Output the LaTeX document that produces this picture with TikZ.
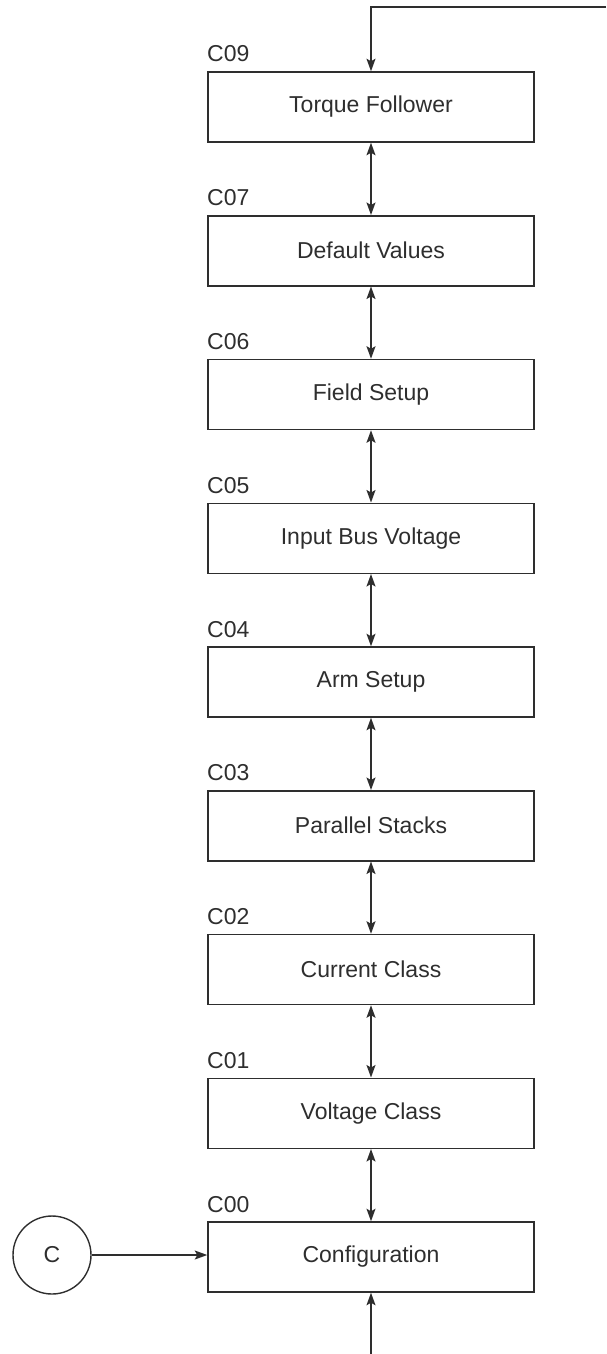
\documentclass[tikz,border=0pt]{standalone}
\usepackage{fontspec}
\setmainfont{Liberation Sans}
\usetikzlibrary{arrows.meta}
\definecolor{ink}{HTML}{2E2E2E}
\begin{document}
\begin{tikzpicture}[x=1pt,y=-1pt,
  every node/.style={font=\fontsize{23}{27}\selectfont, text=ink},
  stepbox/.style={draw=ink, line width=1.5pt, minimum width=326pt, minimum height=70pt, inner sep=0pt},
  lbl/.style={anchor=base west, inner sep=0pt},
  tip/.tip={Stealth[length=12.5pt,width=9pt,inset=2.5pt]},
  conn/.style={draw=ink, line width=1.4pt, -tip},
  bconn/.style={draw=ink, line width=1.4pt, tip-tip}]
\useasboundingbox (0,0) rectangle (606,1354);
% boxes
\node[stepbox] (c09) at (371,107) {Torque Follower};
\node[stepbox] (c07) at (371,250.75) {Default Values};
\node[stepbox] (c06) at (371,394.5) {Field Setup};
\node[stepbox] (c05) at (371,538.25) {Input Bus Voltage};
\node[stepbox] (c04) at (371,682) {Arm Setup};
\node[stepbox] (c03) at (371,825.75) {Parallel Stacks};
\node[stepbox] (c02) at (371,969.5) {Current Class};
\node[stepbox] (c01) at (371,1113.25) {Voltage Class};
\node[stepbox] (c00) at (371,1257) {Configuration};
% labels
\node[lbl] (l09) at (207,62) {C09};
\node[lbl] (l07) at (207,205.75) {C07};
\node[lbl] (l06) at (207,349.5) {C06};
\node[lbl] (l05) at (207,493.25) {C05};
\node[lbl] (l04) at (207,637) {C04};
\node[lbl] (l03) at (207,780.75) {C03};
\node[lbl] (l02) at (207,924.5) {C02};
\node[lbl] (l01) at (207,1068.25) {C01};
\node[lbl] (l00) at (207,1212) {C00};
% circle connector
\node[draw=ink, line width=1.4pt, circle, minimum size=78pt, inner sep=0pt] (cc) at (52,1255) {C};
% connectors
\coordinate (topR) at (606,7);
\coordinate (topL) at (371,7);
\coordinate (bot) at (371,1354);
\draw[conn] (topR) -- (topL) -- (c09.north);
\draw[bconn] (c09.south) -- (c07.north);
\draw[bconn] (c07.south) -- (c06.north);
\draw[bconn] (c06.south) -- (c05.north);
\draw[bconn] (c05.south) -- (c04.north);
\draw[bconn] (c04.south) -- (c03.north);
\draw[bconn] (c03.south) -- (c02.north);
\draw[bconn] (c02.south) -- (c01.north);
\draw[bconn] (c01.south) -- (c00.north);
\draw[conn] (cc.east) -- (cc.east -| c00.west);
\draw[conn] (bot) -- (c00.south);
\end{tikzpicture}
\end{document}
